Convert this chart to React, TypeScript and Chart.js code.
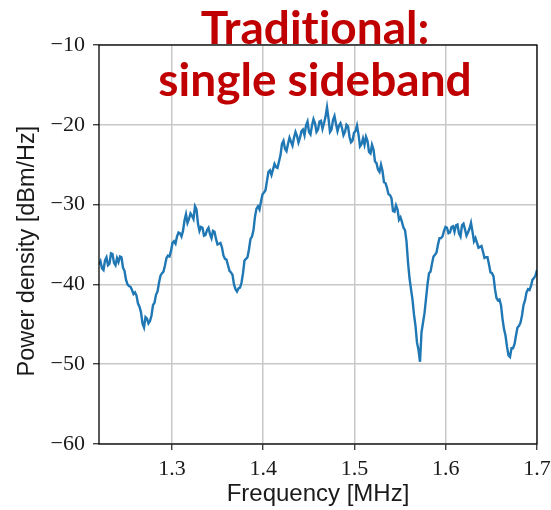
import React, { useEffect, useRef } from "react";
import { Chart, registerables } from "chart.js";

Chart.register(...registerables);

// Frequency range (MHz) of the evenly spaced samples
const FREQ_START = 1.22;
const FREQ_END = 1.7;

// Power density (dBm/Hz)
const POWER = [
  -37.5, -37.1, -38.0, -38.2, -37.0, -36.6, -37.6, -37.4, -36.1, -36.2,
  -37.3, -37.6, -36.7, -37.2, -36.5, -36.6, -37.9, -38.3, -39.4, -40.0,
  -40.2, -40.3, -40.7, -41.2, -41.0, -41.4, -42.4, -42.8, -43.5, -44.9,
  -45.4, -44.1, -44.3, -44.9, -44.6, -43.9, -42.6, -42.3, -41.3, -40.9,
  -39.8, -38.9, -38.6, -38.4, -37.6, -36.7, -36.4, -36.5, -35.8, -34.8,
  -34.6, -34.9, -34.0, -33.5, -33.6, -34.0, -33.3, -32.0, -31.2, -32.3,
  -31.8, -31.1, -31.4, -31.8, -30.2, -30.6, -32.4, -33.3, -32.8, -32.9,
  -33.9, -33.8, -33.2, -32.9, -33.7, -34.2, -33.3, -33.4, -34.3, -35.0,
  -34.9, -34.8, -35.4, -36.4, -36.8, -36.9, -37.6, -38.3, -38.5, -38.8,
  -40.0, -40.6, -40.9, -40.5, -40.4, -39.8, -38.6, -37.0, -36.8, -36.6,
  -35.6, -34.3, -34.0, -33.2, -31.5, -30.5, -30.2, -30.6, -29.6, -28.7,
  -28.5, -28.2, -27.0, -25.9, -25.7, -26.3, -25.6, -24.9, -25.3, -25.4,
  -24.6, -23.8, -22.4, -22.0, -23.0, -23.3, -22.4, -21.6, -22.1, -22.6,
  -21.6, -20.9, -21.4, -22.2, -21.6, -20.8, -20.6, -21.3, -20.1, -19.6,
  -20.9, -21.2, -20.1, -19.3, -19.8, -20.9, -20.6, -19.6, -19.5, -20.5,
  -19.8, -19.0, -17.8, -19.2, -20.9, -20.6, -19.4, -18.9, -19.9, -20.8,
  -20.1, -19.8, -20.4, -21.3, -20.9, -20.0, -20.2, -21.5, -22.2, -22.0,
  -21.0, -20.8, -20.1, -21.2, -22.7, -22.4, -21.7, -22.5, -21.5, -22.0,
  -23.4, -23.6, -22.5, -23.1, -24.6, -24.8, -25.6, -25.9, -25.0, -25.8,
  -27.2, -27.3, -27.9, -28.7, -28.8, -29.2, -30.8, -30.9, -30.1, -30.6,
  -31.9, -31.6, -32.2, -32.9, -33.2, -34.6, -37.2, -39.2, -40.6, -41.9,
  -43.8, -45.2, -47.3, -48.2, -49.7, -46.0, -44.8, -43.6, -41.8, -40.0,
  -38.6, -38.4, -37.4, -36.5, -36.3, -36.0, -35.0, -34.2, -34.2, -34.0,
  -33.3, -32.8, -32.9, -33.6, -33.5, -32.8, -32.7, -33.4, -32.6, -32.5,
  -33.6, -34.0, -32.6, -32.4, -33.1, -33.9, -33.5, -33.0, -32.3, -33.4,
  -34.6, -34.2, -34.8, -35.4, -35.3, -35.2, -35.9, -36.7, -36.6, -36.6,
  -37.5, -38.5, -38.6, -39.0, -40.6, -41.7, -42.0, -41.9, -42.6, -44.3,
  -45.6, -46.4, -47.8, -48.9, -49.1, -48.0, -48.0, -47.5, -46.4, -45.4,
  -45.2, -44.8, -43.9, -42.6, -42.0, -41.0, -40.6, -40.7, -40.2, -39.4,
  -39.2, -38.9, -38.2,
];

const X_TICKS = [1.3, 1.4, 1.5, 1.6, 1.7];
const Y_TICKS = [-60, -50, -40, -30, -20, -10];
const TITLE_LINES = ["Traditional:", "single sideband"];
const X_LABEL = "Frequency [MHz]";
const Y_LABEL = "Power density [dBm/Hz]";

const frame = {
  id: "frame",
  afterDatasetsDraw(chart: any) {
    const { ctx, chartArea } = chart;
    ctx.save();
    ctx.strokeStyle = "#000";
    ctx.lineWidth = 1.3;
    ctx.strokeRect(
      chartArea.left,
      chartArea.top,
      chartArea.right - chartArea.left,
      chartArea.bottom - chartArea.top
    );
    ctx.restore();
  },
};

export default function App() {
  const ref = useRef<HTMLCanvasElement | null>(null);

  useEffect(() => {
    if (!ref.current) return;
    const n = POWER.length;
    const points = POWER.map((y, i) => ({
      x: FREQ_START + ((FREQ_END - FREQ_START) * i) / (n - 1),
      y,
    }));
    const chart = new Chart(ref.current, {
      type: "line",
      data: {
        datasets: [
          {
            data: points,
            borderColor: "#1f77b4",
            borderWidth: 2.4,
            pointRadius: 0,
            tension: 0,
            fill: false,
          },
        ],
      },
      plugins: [frame],
      options: {
        animation: false,
        responsive: false,
        devicePixelRatio: 1,
        layout: { padding: { top: 45, right: 14, left: 0, bottom: 0 } },
        plugins: { legend: { display: false }, tooltip: { enabled: false } },
        scales: {
          x: {
            type: "linear",
            min: FREQ_START,
            max: FREQ_END,
            afterBuildTicks: (s: any) => {
              s.ticks = X_TICKS.map((v) => ({ value: v }));
            },
            afterFit: (s: any) => {
              s.height = 66;
              s.paddingLeft = 0;
              s.paddingRight = 0;
            },
            border: { display: false },
            grid: {
              color: "#c8c8c8",
              lineWidth: 1.5,
              drawTicks: true,
              tickLength: 6,
              tickColor: "#222",
              tickWidth: 1.2,
            },
            ticks: {
              padding: 6,
              color: "#1a1a1a",
              maxRotation: 0,
              font: { family: "'Liberation Serif', serif", size: 22 },
              callback: (v: any) => Number(v).toFixed(1),
            },
            title: {
              display: true,
              text: X_LABEL,
              color: "#1a1a1a",
              font: { family: "'Liberation Sans', sans-serif", size: 24 },
              padding: { top: 0, bottom: 1 },
            },
          },
          y: {
            min: -60,
            max: -10,
            afterBuildTicks: (s: any) => {
              s.ticks = Y_TICKS.map((v) => ({ value: v }));
            },
            afterFit: (s: any) => {
              s.width = 99;
              s.paddingTop = 0;
              s.paddingBottom = 0;
            },
            border: { display: false },
            grid: {
              color: "#c8c8c8",
              lineWidth: 1.5,
              drawTicks: true,
              tickLength: 6,
              tickColor: "#222",
              tickWidth: 1.2,
            },
            ticks: {
              padding: 8,
              color: "#1a1a1a",
              font: { family: "'Liberation Serif', serif", size: 22 },
              callback: (v: any) =>
                Number(v) < 0 ? "\u2212" + Math.abs(Number(v)) : String(v),
            },
            title: {
              display: true,
              text: Y_LABEL + "  ",
              color: "#1a1a1a",
              font: { family: "'Liberation Sans', sans-serif", size: 23.5 },
              padding: { top: 13, bottom: 0 },
            },
          },
        },
      },
    });
    return () => chart.destroy();
  }, []);

  return (
    <div
      style={{
        position: "absolute",
        left: 0,
        top: 0,
        width: 551,
        height: 510,
        background: "#fff",
        overflow: "hidden",
      }}
    >
      <canvas ref={ref} width={551} height={510} />
      <div
        style={{
          position: "absolute",
          left: 115,
          top: 1,
          width: 400,
          textAlign: "center",
          color: "#C00000",
          fontFamily: "Lato, 'Open Sans', sans-serif",
          fontWeight: 700,
          fontSize: 46,
          lineHeight: "52px",
          fontVariantLigatures: "none",
          pointerEvents: "none",
        }}
      >
        {TITLE_LINES.map((t) => (
          <div key={t}>{t}</div>
        ))}
      </div>
    </div>
  );
}
